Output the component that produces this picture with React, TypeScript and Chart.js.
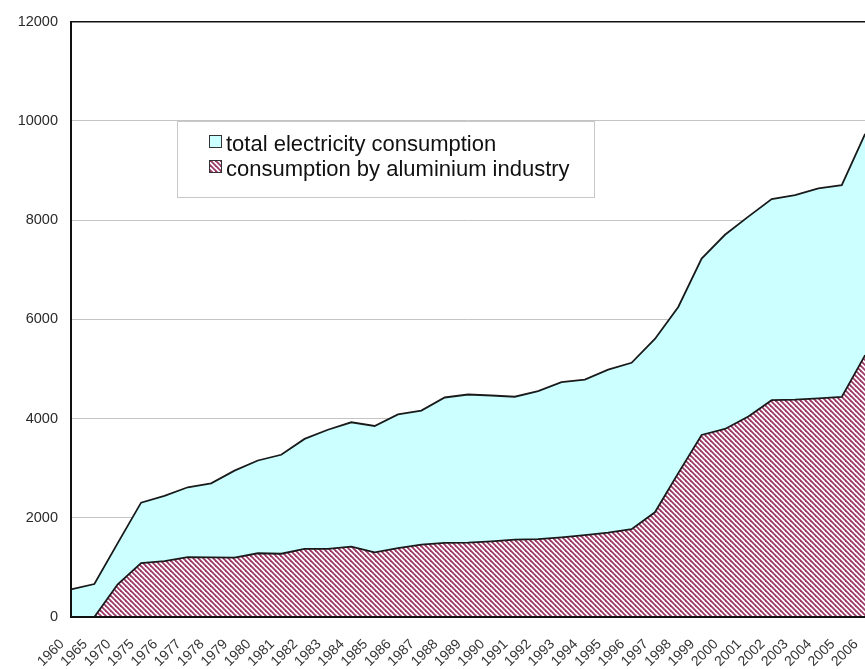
import React, { useEffect, useRef } from "react";
import { Chart, registerables } from "chart.js";

Chart.register(...registerables);

const years = [
  "1960", "1965", "1970", "1975", "1976", "1977", "1978", "1979", "1980", "1981",
  "1982", "1983", "1984", "1985", "1986", "1987", "1988", "1989", "1990", "1991",
  "1992", "1993", "1994", "1995", "1996", "1997", "1998", "1999", "2000", "2001",
  "2002", "2003", "2004", "2005", "2006",
];

const totalConsumption = [
  555, 665, 1490, 2305, 2440, 2615, 2695, 2950, 3155, 3270,
  3590, 3775, 3925, 3850, 4085, 4160, 4425, 4485, 4465, 4440,
  4555, 4735, 4785, 4985, 5125, 5605, 6250, 7225, 7705, 8070,
  8425, 8505, 8640, 8705, 9740,
];

const aluminiumConsumption = [
  0, 0, 660, 1085, 1125, 1205, 1200, 1195, 1285, 1275,
  1375, 1375, 1420, 1305, 1390, 1460, 1495, 1500, 1525, 1560,
  1570, 1605, 1650, 1700, 1770, 2110, 2900, 3670, 3790, 4040,
  4370, 4380, 4405, 4435, 5280,
];

const seriesLabels = ["total electricity consumption", "consumption by aluminium industry"];
const yMin = 0;
const yMax = 12000;
const yStep = 2000;

const CYAN = "#ccffff";
const STRIPE = "#9c3868";

function makeHatch(): CanvasPattern | string {
  const n = 5;
  const c = document.createElement("canvas");
  c.width = n;
  c.height = n;
  const g = c.getContext("2d");
  if (!g) return STRIPE;
  g.fillStyle = "#ffffff";
  g.fillRect(0, 0, n, n);
  g.strokeStyle = STRIPE;
  g.lineWidth = 1.8;
  for (const k of [-n, 0, n]) {
    g.beginPath();
    g.moveTo(k - 1, -1);
    g.lineTo(k + n + 1, n + 1);
    g.stroke();
  }
  const p = g.createPattern(c, "repeat");
  return p || STRIPE;
}

export default function App() {
  const ref = useRef<HTMLCanvasElement | null>(null);

  useEffect(() => {
    if (!ref.current) return;
    const hatch = makeHatch();

    const legendPlugin = {
      id: "boxLegend",
      afterDraw(chart: any) {
        const ctx = chart.ctx as CanvasRenderingContext2D;
        ctx.save();
        const bx = 177, by = 121, bw = 417, bh = 76;
        ctx.fillStyle = "#ffffff";
        ctx.fillRect(bx, by, bw, bh);
        ctx.strokeStyle = "#c8c8c8";
        ctx.lineWidth = 1;
        ctx.strokeRect(bx + 0.5, by + 0.5, bw, bh);
        const fills: any[] = [CYAN, hatch];
        ctx.font = '22px "Liberation Sans", Arial, sans-serif';
        ctx.textBaseline = "alphabetic";
        ctx.textAlign = "left";
        for (let i = 0; i < seriesLabels.length; i++) {
          const iy = 135 + i * 25;
          ctx.fillStyle = fills[i];
          ctx.fillRect(209, iy, 13, 13);
          ctx.strokeStyle = "#333333";
          ctx.lineWidth = 1;
          ctx.strokeRect(209.5, iy + 0.5, 12, 12);
          ctx.fillStyle = "#111111";
          ctx.fillText(seriesLabels[i], 226, 151 + i * 25);
        }
        ctx.restore();
      },
    };

    const axisLinePlugin = {
      id: "axisLines",
      afterDatasetsDraw(chart: any) {
        const { ctx, chartArea } = chart;
        ctx.save();
        ctx.strokeStyle = "#111111";
        ctx.lineWidth = 2;
        ctx.beginPath();
        ctx.moveTo(chartArea.left, chartArea.top);
        ctx.lineTo(chartArea.left, chartArea.bottom);
        ctx.lineTo(chartArea.right + 30, chartArea.bottom);
        ctx.stroke();
        ctx.restore();
      },
    };

    const chart = new Chart(ref.current, {
      type: "line",
      data: {
        labels: years,
        datasets: [
          {
            label: seriesLabels[0],
            data: totalConsumption,
            backgroundColor: CYAN,
            borderColor: "#1a1a1a",
            borderWidth: 1.8,
            fill: "origin",
            pointRadius: 0,
            tension: 0,
            order: 2,
          },
          {
            label: seriesLabels[1],
            data: aluminiumConsumption,
            backgroundColor: hatch as any,
            borderColor: "#1a1a1a",
            borderWidth: 1.8,
            fill: "origin",
            pointRadius: 0,
            tension: 0,
            order: 1,
          },
        ],
      },
      options: {
        animation: false,
        responsive: true,
        maintainAspectRatio: false,
        layout: { padding: { top: 17, left: 0, right: 0, bottom: 0 } },
        plugins: {
          legend: { display: false },
          tooltip: { enabled: false },
        },
        scales: {
          x: {
            type: "category",
            offset: false,
            grid: { display: false, drawTicks: false },
            border: { display: true, color: "#111111", width: 2 },
            ticks: {
              autoSkip: false,
              minRotation: 45,
              maxRotation: 45,
              padding: 19,
              labelOffset: -9,
              color: "#333333",
              font: { family: '"Liberation Sans", Arial, sans-serif', size: 14 },
            },
            afterFit: (scale: any) => {
              scale.height = 52;
            },
          },
          y: {
            min: yMin,
            max: yMax,
            grid: {
              drawTicks: false,
              color: (c: any) => (c.tick && c.tick.value === yMax ? "#111111" : "#c4c4c4"),
              lineWidth: (c: any) => (c.tick && c.tick.value === yMax ? 1.5 : 1),
            },
            border: { display: true, color: "#111111", width: 2 },
            ticks: {
              stepSize: yStep,
              padding: 13,
              color: "#2a2a2a",
              font: { family: '"Liberation Sans", Arial, sans-serif', size: 14.5 },
              callback: (v: any) => String(v),
            },
            afterFit: (scale: any) => {
              scale.width = 71;
            },
          },
        },
      },
      plugins: [axisLinePlugin, legendPlugin],
    });

    return () => chart.destroy();
  }, []);

  return (
    <div
      style={{
        position: "fixed",
        left: 0,
        top: 0,
        width: 896,
        height: 669,
        background: "#ffffff",
      }}
    >
      <canvas ref={ref} />
    </div>
  );
}
